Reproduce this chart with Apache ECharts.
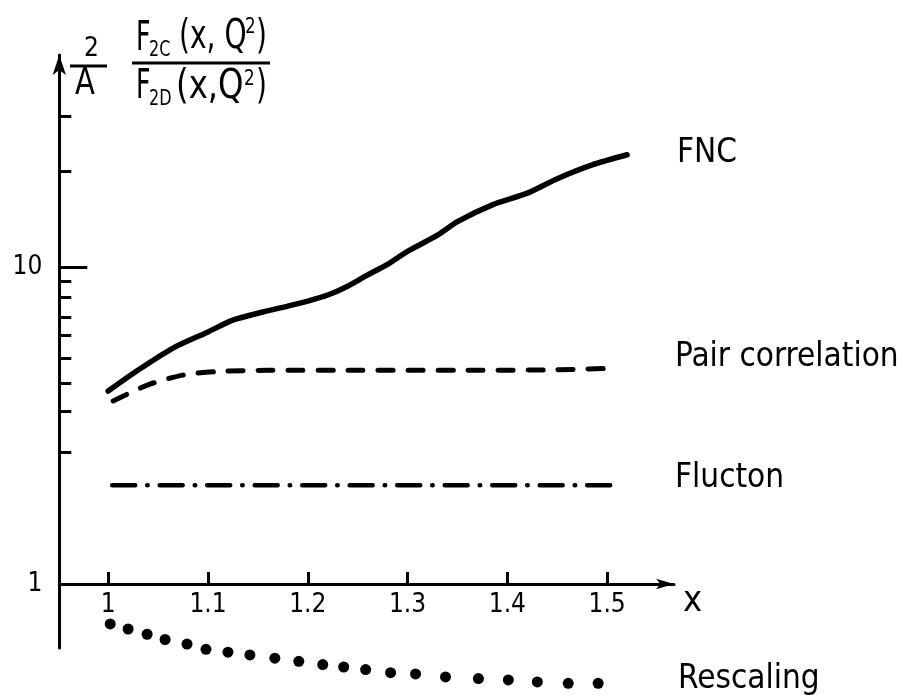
<!DOCTYPE html>
<html>
<head>
<meta charset="utf-8">
<title>F2C / F2D ratio</title>
<script src="https://cdn.jsdelivr.net/npm/echarts@6/dist/echarts.min.js"></script>
<style>
	html, body { margin: 0; padding: 0; background: #fff; }
	#main { width: 913px; height: 695px; }
</style>
</head>
<body>
<div id="main"></div>
<script type="text/javascript">
	// values (y is on a log scale)
	var xTicks = [1, 1.1, 1.2, 1.3, 1.4, 1.5];
	var yLabels = [1, 10];
	var yMinorTicks = [2.6, 3.5, 4.3, 5.15, 6.1, 6.95, 8.05, 9, 20, 30];
	var yMajorTicks = [10];

	var fncX = [1.0, 1.03, 1.065, 1.1, 1.125, 1.155, 1.18, 1.2, 1.22, 1.24, 1.26, 1.28, 1.3, 1.33, 1.35, 1.385, 1.42, 1.45, 1.485, 1.52];
	var fncY = [4.06, 4.73, 5.55, 6.24, 6.8, 7.21, 7.53, 7.81, 8.16, 8.7, 9.44, 10.2, 11.2, 12.6, 13.9, 15.7, 17.1, 19.0, 21.0, 22.6];

	var pairX = [1.005, 1.04, 1.075, 1.11, 1.16, 1.25, 1.35, 1.45, 1.51];
	var pairY = [3.78, 4.25, 4.56, 4.68, 4.72, 4.72, 4.72, 4.74, 4.8];

	var fluctonX = [1.004, 1.511];
	var fluctonY = [2.05, 2.05];

	var rescX = [1.002, 1.020, 1.039, 1.057, 1.079, 1.098, 1.120, 1.142, 1.167, 1.191, 1.215, 1.236, 1.258, 1.283, 1.308, 1.338, 1.371, 1.401, 1.430, 1.461, 1.491];
	var rescY = [0.748, 0.721, 0.694, 0.668, 0.646, 0.622, 0.609, 0.597, 0.583, 0.570, 0.557, 0.547, 0.537, 0.525, 0.520, 0.509, 0.503, 0.498, 0.491, 0.486, 0.486];

	var HAND = "'DejaVu Sans Condensed', 'DejaVu Sans', sans-serif";

	function zip(xs, ys) {
		var out = [];
		for (var i = 0; i < xs.length; i++) {
			out.push([xs[i], ys[i]]);
		}
		return out;
	}

	function txt(x, y, s, size, sx) {
		return {
			type: 'text', x: x, y: y,
			scaleX: sx || 1,
			style: { text: s, fontSize: size, fontFamily: HAND, fill: '#000', align: 'left', verticalAlign: 'middle' }
		};
	}

	function bar(x1, x2, y) {
		return {
			type: 'line',
			shape: { x1: x1, y1: y, x2: x2, y2: y },
			style: { stroke: '#000', lineWidth: 3 }
		};
	}

	var myChart = echarts.init(document.getElementById('main'), null, { renderer: 'canvas' });

	var option = {
		animation: false,
		backgroundColor: '#fff',
		grid: {
			left: 59.3,
			top: 55,
			width: 614.7,
			height: 593
		},
		xAxis: {
			type: 'value',
			min: 0.951,
			max: 1.567,
			position: 'bottom',
			offset: -64,
			name: 'x',
			nameLocation: 'end',
			nameGap: 9,
			nameTextStyle: {
				fontSize: 36,
				fontFamily: HAND,
				color: '#000',
				verticalAlign: 'top'
			},
			axisLine: {
				show: true,
				symbol: ['none', 'arrow'],
				symbolSize: [8, 18],
				lineStyle: { color: '#000', width: 3 }
			},
			axisTick: {
				show: true,
				inside: true,
				length: 12,
				customValues: xTicks,
				lineStyle: { color: '#000', width: 3 }
			},
			axisLabel: {
				customValues: xTicks,
				margin: 8,
				fontSize: 26,
				fontFamily: HAND,
				color: '#000'
			},
			splitLine: { show: false }
		},
		yAxis: [{
			type: 'log',
			logBase: 10,
			min: 0.628,
			max: 46.65,
			axisLine: {
				show: true,
				symbol: ['none', 'arrow'],
				symbolSize: [10, 20],
				lineStyle: { color: '#000', width: 3 }
			},
			axisTick: {
				show: true,
				inside: true,
				length: 12,
				customValues: yMinorTicks,
				lineStyle: { color: '#000', width: 3 }
			},
			axisLabel: {
				customValues: yLabels,
				margin: 17,
				fontSize: 26,
				fontFamily: HAND,
				color: '#000'
			},
			splitLine: { show: false },
			minorTick: { show: false }
		}, {
			type: 'log',
			logBase: 10,
			min: 0.628,
			max: 46.65,
			position: 'left',
			axisLine: { show: false },
			axisTick: {
				show: true,
				inside: true,
				length: 28,
				customValues: yMajorTicks,
				lineStyle: { color: '#000', width: 3 }
			},
			axisLabel: { show: false },
			splitLine: { show: false }
		}],
		series: [{
			name: 'FNC',
			type: 'line',
			smooth: 0.25,
			showSymbol: false,
			data: zip(fncX, fncY),
			lineStyle: { color: '#000', width: 5.5, cap: 'round' }
		}, {
			name: 'Pair correlation',
			type: 'line',
			smooth: 0.25,
			showSymbol: false,
			data: zip(pairX, pairY),
			lineStyle: { color: '#000', width: 5, type: [15, 15], cap: 'round' }
		}, {
			name: 'Flucton',
			type: 'line',
			showSymbol: false,
			data: zip(fluctonX, fluctonY),
			lineStyle: { color: '#000', width: 4.5, type: [23, 12, 0.5, 12], cap: 'round' }
		}, {
			name: 'Rescaling',
			type: 'scatter',
			clip: false,
			symbol: 'circle',
			symbolSize: 11,
			data: zip(rescX, rescY),
			itemStyle: { color: '#000', opacity: 1 }
		}],
		graphic: [
			// axis title: 2/A * F2C(x,Q^2) / F2D(x,Q^2)
			txt(84, 49, '2', 26),
			bar(70, 107, 66),
			txt(75, 84, 'A', 38, 0.85),
			txt(136, 40, 'F', 40, 0.7),
			txt(149, 51, '2C', 21, 0.85),
			txt(179, 38, '(x, Q', 40, 0.78),
			txt(245, 27, '2', 22, 0.85),
			txt(256, 38, ')', 40, 0.78),
			bar(132, 270, 63),
			txt(136, 88, 'F', 40, 0.7),
			txt(149, 100, '2D', 21, 0.85),
			txt(176, 88, '(x,Q', 40, 0.9),
			txt(244, 79, '2', 22, 0.85),
			txt(256, 88, ')', 40, 0.78),
			// curve names
			txt(677, 153, 'FNC', 33),
			txt(675, 357, 'Pair correlation', 33),
			txt(675, 478, 'Flucton', 33),
			txt(678, 679, 'Rescaling', 33)
		]
	};

	myChart.setOption(option);
</script>
</body>
</html>
